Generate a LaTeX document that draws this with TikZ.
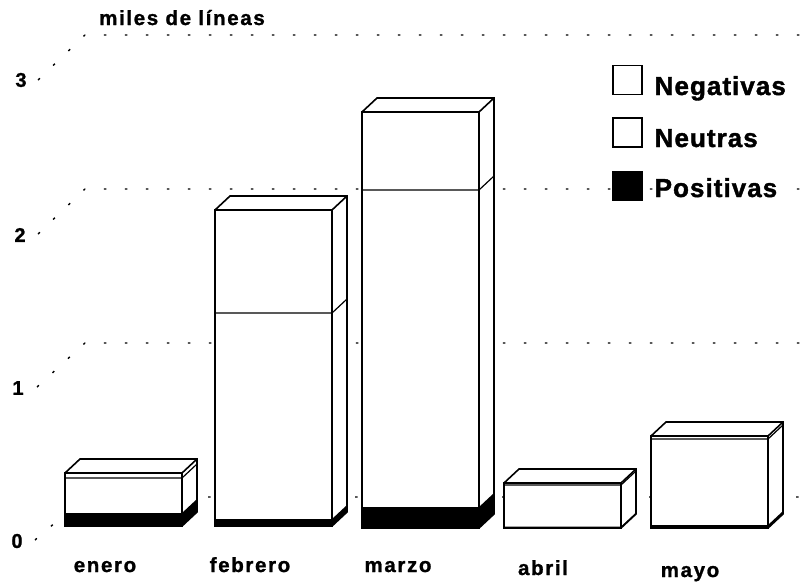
\documentclass[tikz,border=0pt]{standalone}
\usepackage{fontspec}
\setmainfont{Liberation Sans}[FakeBold=1]
\newfontfamily\rotulo{Liberation Sans}[LetterSpace=8, FakeBold=1.2]
\newfontfamily\leyenda{Liberation Sans}[LetterSpace=4, FakeBold=1.5]
\tikzset{
    rejilla/.style={black, line width=1.4pt, dash pattern=on 2.5pt off 18.5pt},
    mes/.style={anchor=base, font=\rotulo\bfseries\fontsize{20.5}{24}\selectfont},
    cifra/.style={font=\bfseries\fontsize{20}{24}\selectfont},
    clave/.style={draw=black, line width=1.6pt, minimum width=29pt, minimum height=29pt, inner sep=0pt},
    tipo/.style={anchor=base west, fill=white, inner sep=1.5pt, font=\leyenda\bfseries\fontsize{26}{30}\selectfont}
}
% #1 left, #2 bottom, #3 top of Positivas, #4 top of Neutras, #5 top
\newcommand{\Barra}[5]{
    \fill[white] (#1,#2) -- (#1+117,#2) -- (#1+132,#2-14) -- (#1+132,#5-14) -- (#1+15,#5-14) -- (#1,#5) -- cycle;
    \fill[black] (#1,#2) -- (#1+117,#2) -- (#1+132,#2-14) -- (#1+132,#3-14) -- (#1+117,#3) -- (#1,#3) -- cycle;
    \draw[black, line width=1.2pt] (#1,#4) -- (#1+117,#4) -- (#1+132,#4-14);
    \draw[black, line width=1.6pt] (#1,#2) rectangle (#1+117,#5);
    \draw[black, line width=1.6pt] (#1+117,#2) -- (#1+132,#2-14) -- (#1+132,#5-14) -- (#1+15,#5-14) -- (#1,#5);
    \draw[black, line width=1.6pt] (#1+117,#5) -- (#1+132,#5-14);
}

\begin{document}
\begin{tikzpicture}[x=1pt, y=-1pt]
    \useasboundingbox (0,0) rectangle (805,584);
    % rejilla
    \draw[rejilla] (38,80) -- (85,35) -- (805,35);
    \draw[rejilla] (38,234) -- (85,189) -- (805,189);
    \draw[rejilla] (37,387) -- (85,343) -- (805,343);
    \draw[rejilla] (35,540) -- (85,497) -- (805,497);
    \node[cifra] (tres) at (21,80) {3};
    \node[cifra] (dos) at (20,235) {2};
    \node[cifra] (uno) at (18,388) {1};
    \node[cifra] (cero) at (17,541) {0};
    \node[mes] (titulo) at (182,25) {miles de líneas};
    % barras
    \Barra{65}{526}{513}{478}{473}
    \Barra{215}{526}{519}{313}{210}
    \Barra{362}{528}{507}{190}{112}
    \Barra{504}{528}{526.5}{485}{483}
    \Barra{651}{528}{525}{439}{436}
    \node[mes] (enero) at (105,572) {enero};
    \node[mes] (febrero) at (250,572) {febrero};
    \node[mes] (marzo) at (398,572) {marzo};
    \node[mes] (abril) at (543,575) {abril};
    \node[mes] (mayo) at (690,577) {mayo};
    % leyenda
    \node[clave] (cajaNeg) at (627.5,80) {};
    \node[clave] (cajaNeu) at (627.5,132.5) {};
    \node[clave, fill=black] (cajaPos) at (627.5,186) {};
    \node[tipo] (negativas) at (653,95) {Negativas};
    \node[tipo] (neutras) at (653,147) {Neutras};
    \node[tipo] (positivas) at (653,197) {Positivas};
\end{tikzpicture}
\end{document}
